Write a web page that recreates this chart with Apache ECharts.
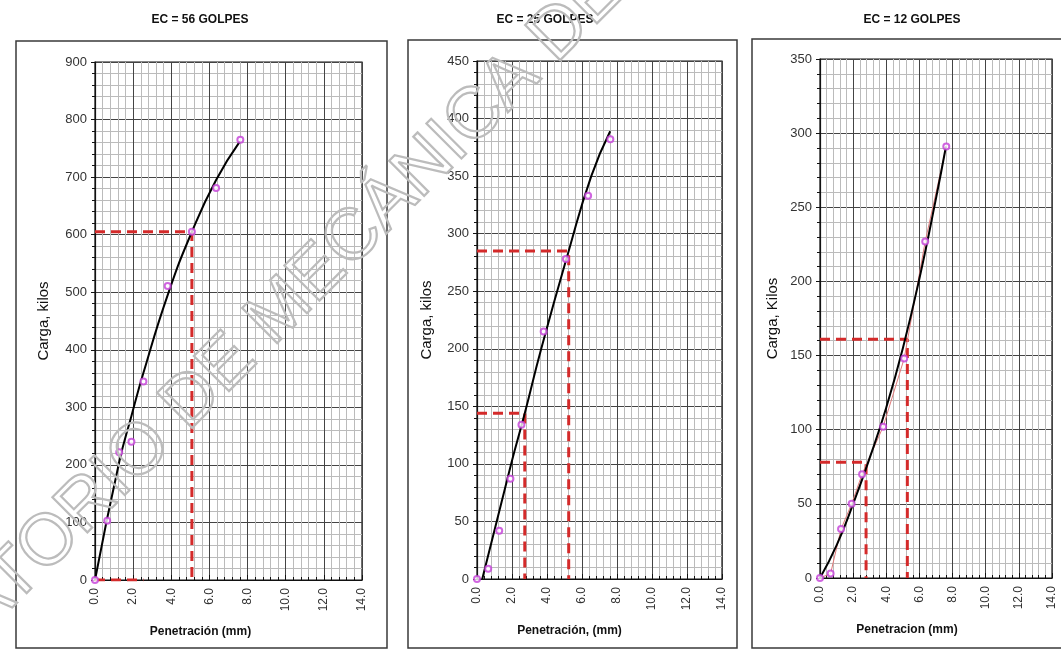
<!DOCTYPE html>
<html>
<head>
<meta charset="utf-8">
<script src="https://cdn.jsdelivr.net/npm/echarts@6/dist/echarts.min.js"></script>
<style>
html,body{margin:0;padding:0;background:#fff;}
#chart{width:1061px;height:651px;}
</style>
</head>
<body>
<div id="chart"></div>
<script>
// ---- data ----
const titles = ['EC = 56 GOLPES', 'EC = 25 GOLPES', 'EC = 12 GOLPES'];
const xNames = ['Penetración (mm)', 'Penetración, (mm)', 'Penetracion (mm)'];
const yNames = ['Carga, kilos', 'Carga, kilos', 'Carga, Kilos'];
const yMax = [900, 450, 350];
const yStep = [100, 50, 50];
const xTicks = ['0.0', '2.0', '4.0', '6.0', '8.0', '10.0', '12.0', '14.0'];

const penetration = [0, 0.64, 1.27, 1.91, 2.54, 3.81, 5.08, 6.35, 7.62];
const load56 = [0, 103, 222, 240, 345, 511, 605, 681, 765];
const load25 = [0, 9, 42, 87, 134, 215, 278, 333, 382];
const load12 = [0, 3, 33, 50, 70, 102, 148, 227, 291];

const fit56X = [0, 1.27, 1.91, 2.54, 3.81, 5.08, 6.35, 7.6];
const fit56Y = [0, 205, 285, 360, 495, 605, 695, 762];
const fit25X = [0.3, 1.95, 2.73, 3.67, 5.24, 6.53, 7.61];
const fit25Y = [0, 100, 144, 200, 285, 350, 389];
const fit12X = [0, 1, 2, 3, 4, 5, 6, 7, 7.6];
const fit12Y = [0, 22, 50, 81, 115, 155, 202, 256, 291];

// corrected-load guide lines (x, y of the corner)
const guide56 = [[2.54, 0], [5.08, 605]];
const guide25 = [[2.73, 144], [5.24, 285]];
const guide12 = [[2.78, 78], [5.27, 161]];

// ---- layout ----
const grids = [
  {left: 95, top: 62, width: 267, height: 518},
  {left: 477, top: 61, width: 245, height: 518},
  {left: 820, top: 59, width: 232, height: 519}
];
const boxes = [
  {x: 16, y: 41, w: 371, h: 607},
  {x: 408, y: 40, w: 329, h: 608},
  {x: 752, y: 39, w: 330, h: 609}
];
const titleX = [200, 545, 912];
const xNameShift = [56, 60, 58];
const yNameGap = [44, 43, 40];

const pairs = (xs, ys) => xs.map((x, i) => [x, ys[i]]);
const loads = [load56, load25, load12];
const fits = [pairs(fit56X, fit56Y), pairs(fit25X, fit25Y), pairs(fit12X, fit12Y)];
const guides = [guide56, guide25, guide12];

const font = '"Liberation Sans", Arial, sans-serif';

const xAxes = [], yAxes = [], series = [];
for (let i = 0; i < 3; i++) {
  xAxes.push({
    type: 'value', gridIndex: i, min: 0, max: 14, interval: 2,
    name: xNames[i], nameLocation: 'middle', nameGap: 46,
    nameTextStyle: {fontFamily: font, fontWeight: 'bold', fontSize: 12, color: '#111', padding: [0, xNameShift[i], 0, 0]},
    axisLine: {show: true, onZero: false, lineStyle: {color: '#111', width: 1.2}},
    axisTick: {show: true, inside: true, length: 5, lineStyle: {color: '#111'}},
    minorTick: {show: true, splitNumber: 5, length: 3, lineStyle: {color: '#111'}},
    axisLabel: {rotate: 90, fontFamily: font, fontSize: 12, color: '#333', margin: 8,
      formatter: v => xTicks[Math.round(v / 2)]},
    splitLine: {show: true, lineStyle: {color: '#444', width: 1}},
    minorSplitLine: {show: true, lineStyle: {color: '#bbbbbb', width: 1}}
  });
  yAxes.push({
    type: 'value', gridIndex: i, min: 0, max: yMax[i], interval: yStep[i],
    name: yNames[i], nameLocation: 'middle', nameGap: yNameGap[i], nameRotate: 90,
    nameTextStyle: {fontFamily: font, fontSize: 15, color: '#111'},
    axisLine: {show: true, lineStyle: {color: '#111', width: 1.2}},
    axisTick: {show: true, length: 4, lineStyle: {color: '#111'}},
    minorTick: {show: true, splitNumber: 5, length: 3, lineStyle: {color: '#111'}},
    axisLabel: {fontFamily: font, fontSize: 13, color: '#333', margin: 8},
    splitLine: {show: true, lineStyle: {color: '#444', width: 1}},
    minorSplitLine: {show: true, lineStyle: {color: '#bbbbbb', width: 1}}
  });
  guides[i].forEach(g => {
    series.push({
      type: 'line', xAxisIndex: i, yAxisIndex: i, z: 3,
      data: [[0, g[1]], [g[0], g[1]], [g[0], 0]],
      symbol: 'none', silent: true,
      lineStyle: {color: '#d42a2a', width: 3, type: [10, 6]}
    });
  });
  if (i === 2) {
    series.push({
      type: 'line', xAxisIndex: i, yAxisIndex: i, z: 4,
      data: pairs(penetration, loads[i]), symbol: 'none', silent: true,
      lineStyle: {color: '#e07a7a', width: 1}
    });
  }
  series.push({
    type: 'line', xAxisIndex: i, yAxisIndex: i, z: 5,
    data: fits[i], smooth: true, symbol: 'none', silent: true,
    lineStyle: {color: '#000', width: 2}
  });
  series.push({
    type: 'scatter', xAxisIndex: i, yAxisIndex: i, z: 6,
    data: pairs(penetration, loads[i]), symbol: 'emptyCircle', symbolSize: 6,
    itemStyle: {color: '#c43fd8', borderColor: '#c43fd8', borderWidth: 1.6}
  });
}

const graphics = [];
boxes.forEach(b => graphics.push({
  type: 'rect', shape: {x: b.x, y: b.y, width: b.w, height: b.h}, z: -10, silent: true,
  style: {fill: '#fff', stroke: '#3a3a3a', lineWidth: 1.5}
}));
titles.forEach((t, i) => graphics.push({
  type: 'text', x: titleX[i], y: 20, silent: true,
  style: {text: t, font: 'bold 12px ' + font, fill: '#111', align: 'center', verticalAlign: 'middle'}
}));
graphics.push({
  type: 'text', x: 315, y: 277, rotation: 0.785, z: 100, silent: true,
  style: {text: 'LABORATORIO DE MECÁNICA DE SUELOS', font: '72px ' + font,
    fill: 'rgba(0,0,0,0)', stroke: '#bcbcbc', lineWidth: 2.2, align: 'center', verticalAlign: 'middle'}
});

const chart = echarts.init(document.getElementById('chart'), null, {renderer: 'canvas'});
chart.setOption({
  animation: false,
  backgroundColor: '#fff',
  grid: grids.map(g => Object.assign({show: true, borderColor: '#111', borderWidth: 1.2, backgroundColor: 'transparent'}, g)),
  xAxis: xAxes,
  yAxis: yAxes,
  series: series,
  graphic: graphics
});
</script>
</body>
</html>
